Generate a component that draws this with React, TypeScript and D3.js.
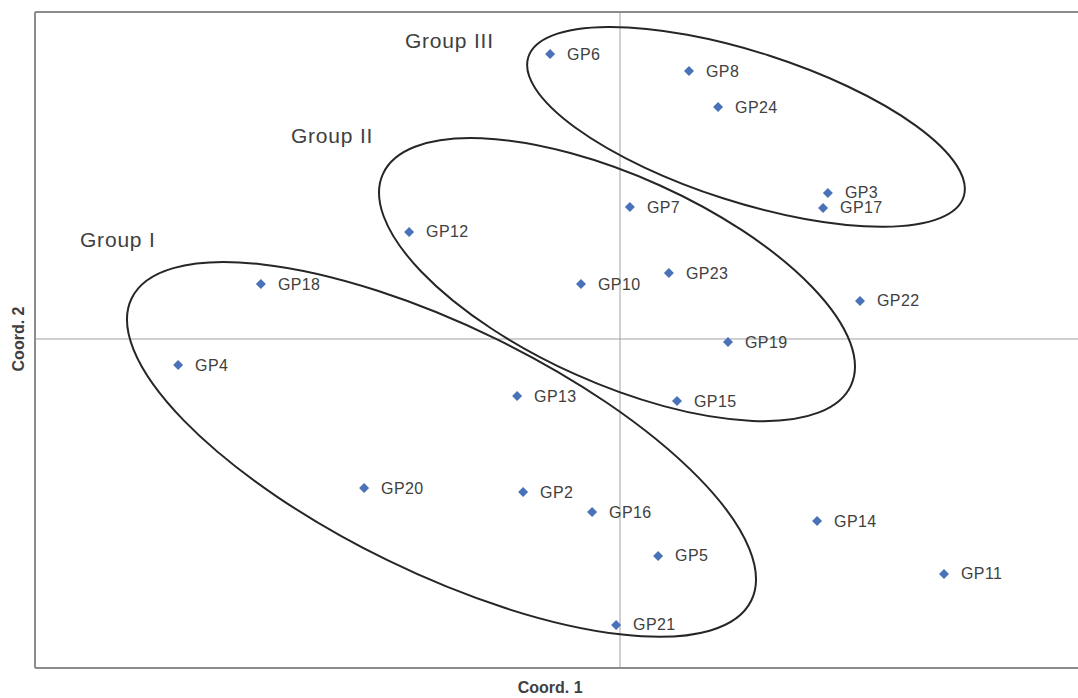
import React from "react";
import * as d3 from "d3";

// Genotype labels and MDS coordinates
const names = ["GP6","GP8","GP24","GP3","GP17","GP7","GP12","GP23","GP10","GP18","GP22","GP19","GP4","GP13","GP15","GP20","GP2","GP16","GP14","GP5","GP11","GP21"];
const coord1 = [-0.233,0.23,0.327,0.693,0.677,0.033,-0.703,0.163,-0.13,-1.197,0.8,0.36,-1.473,-0.343,0.19,-0.853,-0.323,-0.093,0.657,0.127,1.08,-0.013];
const coord2 = [0.95,0.893,0.773,0.487,0.437,0.44,0.357,0.22,0.183,0.183,0.127,-0.01,-0.087,-0.19,-0.207,-0.497,-0.51,-0.577,-0.607,-0.723,-0.783,-0.953];

// Group ellipses (data units) and labels
const groupNames = ["Group I","Group II","Group III"];
const ellCx = [-0.595,-0.01,0.42];
const ellCy = [-0.368,0.198,0.707];
const ellA = [1.149,0.856,0.762];
const ellB = [0.411,0.345,0.25];
const ellAngle = [26,24.25,17.8];
const labelX = [-1.8,-1.097,-0.717];
const labelY = [0.307,0.653,0.97];

const xDomain = [-1.95,1.5267];
const yDomain = [-1.0967,1.09];

export default function App() {
  const W = 1078, H = 698;
  const left = 35, top = 12, bottom = 668, right = 1078;
  const x = d3.scaleLinear().domain(xDomain).range([left,right]);
  const y = d3.scaleLinear().domain(yDomain).range([bottom,top]);
  const sx = (v: number) => x(v) - x(0);
  const sy = (v: number) => y(0) - y(v);
  const diamond = d3.symbol().type(d3.symbolSquare).size(50)();
  const font = "'Liberation Sans', Arial, sans-serif";
  return (
    <svg width={W} height={H} style={{position:"absolute",left:0,top:0,background:"#fff"}}>
      <rect x={0} y={0} width={W} height={H} fill="#fff"/>
      {/* zero axes */}
      <line x1={x(0)} x2={x(0)} y1={top} y2={bottom} stroke="#a0a0a0" strokeWidth={1}/>
      <line x1={left} x2={right} y1={y(0)} y2={y(0)} stroke="#a0a0a0" strokeWidth={1}/>
      {/* frame */}
      <line x1={left} x2={right+5} y1={top} y2={top} stroke="#8c8c8c" strokeWidth={2}/>
      <line x1={left} x2={right+5} y1={bottom} y2={bottom} stroke="#8c8c8c" strokeWidth={2}/>
      <line x1={left} x2={left} y1={top} y2={bottom} stroke="#8c8c8c" strokeWidth={2}/>
      {/* ellipses */}
      {groupNames.map((g,i)=>(
        <ellipse key={g} cx={x(ellCx[i])} cy={y(ellCy[i])} rx={sx(ellA[i])} ry={sy(ellB[i])}
          transform={`rotate(${ellAngle[i]} ${x(ellCx[i])} ${y(ellCy[i])})`}
          fill="none" stroke="#262626" strokeWidth={2}/>
      ))}
      {groupNames.map((g,i)=>(
        <text key={g} x={x(labelX[i])} y={y(labelY[i])} fontFamily={font} fontSize={21} letterSpacing={0.8} fill="#404040">{g}</text>
      ))}
      {/* points */}
      {names.map((n,i)=>(
        <g key={n}>
          <path d={diamond!} transform={`translate(${x(coord1[i])},${y(coord2[i])}) rotate(45)`} fill="#4a72b8"/>
          <text x={x(coord1[i])+17} y={y(coord2[i])} dy="0.35em" fontFamily={font} fontSize={16} letterSpacing={0.4} fill="#404040">{n}</text>
        </g>
      ))}
      {/* axis titles */}
      <text x={x(-0.233)} y={693} textAnchor="middle" fontFamily={font} fontSize={16} fontWeight="bold" fill="#404040">Coord. 1</text>
      <text transform={`translate(24,${y(0)}) rotate(-90)`} textAnchor="middle" fontFamily={font} fontSize={16} fontWeight="bold" fill="#404040">Coord. 2</text>
    </svg>
  );
}
